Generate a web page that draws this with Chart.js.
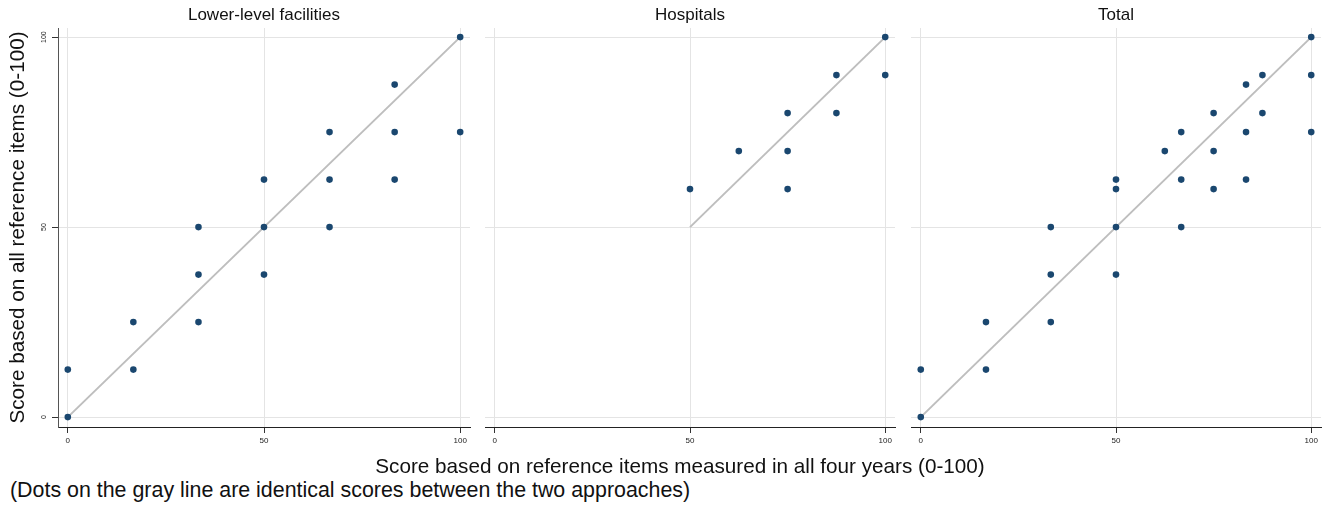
<!DOCTYPE html>
<html>
<head>
<meta charset="utf-8">
<script src="https://cdn.jsdelivr.net/npm/chart.js@4.4.1/dist/chart.umd.min.js"></script>
<style>
body { margin: 0; background: #fff; width: 1325px; height: 506px; position: relative; overflow: hidden; font-family: "Liberation Sans", Arial, sans-serif; }
canvas { position: absolute; top: 0; }
.txt { position: absolute; color: #111; white-space: nowrap; line-height: 24px; }
</style>
</head>
<body>
<canvas id="chart1" width="474" height="455" style="left:0px"></canvas>
<canvas id="chart2" width="418" height="455" style="left:481px"></canvas>
<canvas id="chart3" width="418" height="455" style="left:907px"></canvas>
<div class="txt" style="left:0;width:1360px;text-align:center;top:454px;font-size:20.7px">Score based on reference items measured in all four years (0-100)</div>
<div class="txt" style="left:10px;top:478px;font-size:21.4px">(Dots on the gray line are identical scores between the two approaches)</div>
<script>
var xTicks = [0, 50, 100];
var yTicks = [0, 50, 100];

// lower-level facilities
var lowerX = [0, 0, 16.7, 16.7, 33.3, 33.3, 33.3, 50, 50, 50, 66.7, 66.7, 66.7, 83.3, 83.3, 83.3, 100, 100];
var lowerY = [0, 12.5, 12.5, 25, 25, 37.5, 50, 37.5, 50, 62.5, 50, 62.5, 75, 62.5, 75, 87.5, 75, 100];

// hospitals
var hospX = [50, 62.5, 75, 75, 75, 87.5, 87.5, 100, 100];
var hospY = [60, 70, 60, 70, 80, 80, 90, 90, 100];

// total
var totalX = [0, 0, 16.7, 16.7, 33.3, 33.3, 33.3, 50, 50, 50, 50, 62.5, 66.7, 66.7, 66.7, 75, 75, 75, 83.3, 83.3, 83.3, 87.5, 87.5, 100, 100, 100];
var totalY = [0, 12.5, 12.5, 25, 25, 37.5, 50, 37.5, 50, 60, 62.5, 70, 50, 62.5, 75, 60, 70, 80, 62.5, 75, 87.5, 80, 90, 75, 90, 100];

// gray identity lines
var lowerLineX = [0, 100];
var hospLineX = [50, 100];
var totalLineX = [0, 100];

var dotColor = '#1a476f';
var lineColor = '#bebebe';
var font = "'Liberation Sans', Arial, sans-serif";

function pts(xs, ys) {
	return xs.map(function(v, i) { return {x: v, y: ys[i]}; });
}

// panel title centred over the plot area, not the whole canvas
var panelTitle = {
	id: 'panelTitle',
	afterDraw: function(chart, args, opts) {
		var c = chart.ctx, a = chart.chartArea;
		c.save();
		c.fillStyle = '#111';
		c.font = '17px ' + font;
		c.textAlign = 'center';
		c.textBaseline = 'middle';
		c.fillText(opts.text, (a.left + a.right) / 2, 15);
		c.restore();
	}
};

function makeChart(id, title, xs, ys, lineX, first) {
	var ctx = document.getElementById(id).getContext('2d');
	return new Chart(ctx, {
		type: 'scatter',
		data: {
			datasets: [
			{
				data: pts(xs, ys),
				backgroundColor: dotColor,
				borderColor: dotColor,
				pointRadius: 3.3,
				pointBorderWidth: 0
			},
			{
				data: pts(lineX, lineX),
				showLine: true,
				borderColor: lineColor,
				borderWidth: 2,
				pointRadius: 0
			}]
		},
		plugins: [panelTitle],
		options: {
			responsive: false,
			animation: false,
			layout: { padding: { left: 0, right: 2, top: 28, bottom: 0 } },
			plugins: {
				legend: { display: false },
				tooltip: { enabled: false },
				title: { display: false },
				panelTitle: { text: title }
			},
			scales: {
				x: {
					type: 'linear',
					min: -2.5,
					max: 102.5,
					afterBuildTicks: function(s) { s.ticks = xTicks.map(function(v) { return {value: v}; }); },
					afterFit: function(s) { s.height = 28; },
					grid: { color: '#e4e4e4', tickColor: '#333', tickLength: 6 },
					border: { display: true, color: '#222', width: 1 },
					ticks: { color: '#222', font: { family: font, size: 8 }, padding: 3, maxRotation: 0 }
				},
				y: {
					type: 'linear',
					min: -2.6,
					max: 102.4,
					afterBuildTicks: function(s) { s.ticks = yTicks.map(function(v) { return {value: v}; }); },
					afterFit: function(s) { s.width = first ? 58 : 0; },
					grid: { color: '#e4e4e4', tickColor: '#333', tickLength: 6, drawTicks: first },
					border: { display: first, color: '#555', width: 1 },
					title: {
						display: first,
						text: 'Score based on all reference items (0-100)',
						color: '#111',
						font: { family: font, size: 20.7 },
						padding: { top: 5.6, bottom: 0 }
					},
					ticks: { display: first, color: '#222', font: { family: font, size: 7 }, padding: 2, minRotation: 90, maxRotation: 90, crossAlign: 'center' }
				}
			}
		}
	});
}

makeChart('chart1', 'Lower-level facilities', lowerX, lowerY, lowerLineX, true);
makeChart('chart2', 'Hospitals', hospX, hospY, hospLineX, false);
makeChart('chart3', 'Total', totalX, totalY, totalLineX, false);
</script>
</body>
</html>
